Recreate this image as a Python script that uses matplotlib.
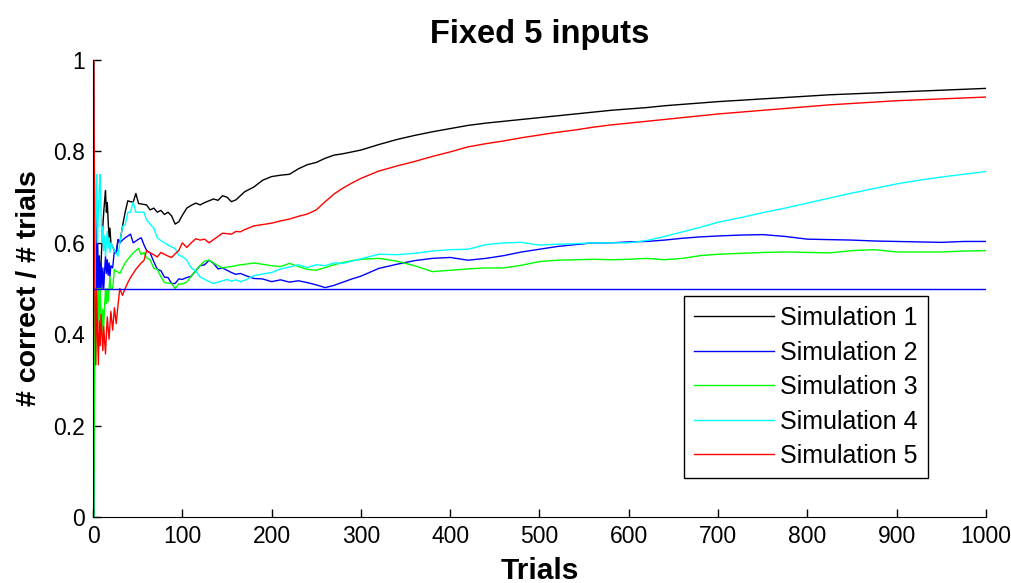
import numpy as np
import matplotlib
matplotlib.use('Agg')
import matplotlib.pyplot as plt

plt.rcParams['font.family'] = ['Liberation Sans', 'DejaVu Sans']

trials = [1, 2, 3, 4, 5, 6, 7, 8, 9, 10, 11, 12, 13, 14, 15, 16, 17, 18, 19, 20,
          22, 24, 26, 28, 30, 33, 36, 39, 42, 45, 48, 51, 54, 57, 60,
          64, 68, 72, 76, 80, 84, 88, 92, 96, 100,
          105, 110, 115, 120, 125, 130, 135, 140, 145, 150, 155, 160, 165, 170,
          180, 190, 200, 210, 220, 230, 240, 250, 260, 270, 280, 290, 300,
          320, 340, 360, 380, 400, 420, 440, 460, 480, 500, 520, 540, 560, 580,
          600, 620, 640, 660, 680, 700,
          725, 750, 775, 800, 825, 850, 875, 900, 925, 950, 975, 1000]

sim1 = [1.0, 0.5, 0.667, 0.5, 0.6, 0.5, 0.571, 0.5, 0.556, 0.6, 0.636, 0.667, 0.692, 0.714, 0.667, 0.688, 0.647, 0.611, 0.632, 0.6,
        0.591, 0.583, 0.577, 0.607, 0.6, 0.636, 0.667, 0.692, 0.69, 0.689, 0.708, 0.686, 0.685, 0.684, 0.683,
        0.672, 0.676, 0.667, 0.671, 0.662, 0.667, 0.659, 0.641, 0.646, 0.66,
        0.676, 0.682, 0.687, 0.683, 0.688, 0.692, 0.696, 0.693, 0.703, 0.7, 0.69, 0.694, 0.703, 0.712,
        0.722, 0.737, 0.745, 0.748, 0.75, 0.762, 0.771, 0.776, 0.785, 0.792, 0.795, 0.799, 0.803,
        0.815, 0.826, 0.835, 0.843, 0.85, 0.857, 0.862, 0.866, 0.87, 0.874, 0.878, 0.882, 0.886, 0.89,
        0.893, 0.896, 0.9, 0.903, 0.906, 0.909,
        0.912, 0.915, 0.918, 0.921, 0.924, 0.926, 0.928, 0.93, 0.932, 0.934, 0.936, 0.938]

sim2 = [0.0, 0.5, 0.667, 0.5, 0.6, 0.5, 0.571, 0.5, 0.556, 0.5, 0.545, 0.5, 0.538, 0.571, 0.533, 0.563, 0.529, 0.556, 0.526, 0.55,
        0.545, 0.583, 0.577, 0.607, 0.6, 0.606, 0.611, 0.615, 0.619, 0.6, 0.604, 0.608, 0.611, 0.596, 0.583,
        0.578, 0.559, 0.542, 0.539, 0.525, 0.524, 0.511, 0.511, 0.521, 0.52,
        0.524, 0.527, 0.539, 0.55, 0.552, 0.562, 0.555, 0.543, 0.545, 0.54, 0.535, 0.531, 0.533, 0.529,
        0.522, 0.521, 0.515, 0.519, 0.514, 0.517, 0.513, 0.508, 0.502, 0.507, 0.514, 0.521, 0.527,
        0.544, 0.553, 0.561, 0.566, 0.568, 0.562, 0.566, 0.572, 0.58, 0.586, 0.592, 0.596, 0.6, 0.6,
        0.602, 0.603, 0.606, 0.61, 0.613, 0.615,
        0.617, 0.618, 0.614, 0.608, 0.607, 0.606, 0.604, 0.603, 0.602, 0.601, 0.603, 0.603]

sim3 = [0.0, 0.5, 0.333, 0.5, 0.4, 0.5, 0.429, 0.5, 0.444, 0.4, 0.455, 0.417, 0.462, 0.5, 0.467, 0.5, 0.471, 0.5, 0.526, 0.5,
        0.5, 0.542, 0.538, 0.536, 0.533, 0.545, 0.556, 0.564, 0.571, 0.578, 0.583, 0.588, 0.574, 0.579, 0.567,
        0.563, 0.544, 0.542, 0.526, 0.513, 0.512, 0.511, 0.5, 0.51, 0.51,
        0.514, 0.527, 0.539, 0.55, 0.56, 0.562, 0.556, 0.55, 0.545, 0.547, 0.548, 0.55, 0.552, 0.553,
        0.556, 0.553, 0.55, 0.548, 0.555, 0.548, 0.542, 0.54, 0.546, 0.552, 0.557, 0.561, 0.564,
        0.566, 0.56, 0.55, 0.537, 0.54, 0.543, 0.545, 0.545, 0.551, 0.559, 0.562, 0.563, 0.564, 0.563,
        0.564, 0.566, 0.563, 0.566, 0.572, 0.575,
        0.577, 0.579, 0.58, 0.579, 0.578, 0.583, 0.585, 0.58, 0.58, 0.58, 0.582, 0.583]

sim4 = [1.0, 0.5, 0.667, 0.75, 0.6, 0.667, 0.714, 0.75, 0.667, 0.6, 0.636, 0.583, 0.615, 0.571, 0.6, 0.625, 0.588, 0.611, 0.579, 0.6,
        0.591, 0.583, 0.577, 0.571, 0.6, 0.636, 0.639, 0.667, 0.667, 0.689, 0.667, 0.667, 0.667, 0.667, 0.65,
        0.641, 0.632, 0.611, 0.605, 0.6, 0.595, 0.591, 0.587, 0.573, 0.57,
        0.562, 0.545, 0.539, 0.525, 0.52, 0.515, 0.511, 0.514, 0.517, 0.52, 0.516, 0.519, 0.515, 0.518,
        0.528, 0.532, 0.535, 0.543, 0.547, 0.552, 0.546, 0.552, 0.55, 0.556, 0.555, 0.56, 0.565,
        0.575, 0.574, 0.577, 0.582, 0.585, 0.586, 0.596, 0.6, 0.601, 0.595, 0.597, 0.598, 0.6, 0.6,
        0.6, 0.605, 0.614, 0.624, 0.634, 0.645,
        0.655, 0.666, 0.676, 0.687, 0.698, 0.709, 0.719, 0.729, 0.737, 0.744, 0.75, 0.756]

sim5 = [1.0, 0.5, 0.333, 0.5, 0.4, 0.333, 0.429, 0.375, 0.444, 0.4, 0.364, 0.417, 0.385, 0.357, 0.4, 0.438, 0.412, 0.389, 0.421, 0.45,
        0.409, 0.458, 0.423, 0.464, 0.5, 0.485, 0.5, 0.513, 0.524, 0.533, 0.542, 0.549, 0.556, 0.561, 0.583,
        0.578, 0.574, 0.569, 0.579, 0.575, 0.571, 0.568, 0.576, 0.583, 0.6,
        0.59, 0.6, 0.609, 0.606, 0.608, 0.6, 0.607, 0.614, 0.621, 0.62, 0.619, 0.625, 0.624, 0.629,
        0.637, 0.64, 0.643, 0.648, 0.652, 0.658, 0.663, 0.672, 0.69, 0.707, 0.72, 0.731, 0.741,
        0.757, 0.768, 0.778, 0.789, 0.799, 0.81, 0.817, 0.823, 0.83, 0.836, 0.842, 0.847, 0.853, 0.858,
        0.862, 0.866, 0.87, 0.874, 0.878, 0.882,
        0.886, 0.89, 0.894, 0.898, 0.902, 0.905, 0.908, 0.911, 0.913, 0.915, 0.917, 0.919]

labels = ['Simulation 1', 'Simulation 2', 'Simulation 3', 'Simulation 4', 'Simulation 5']
colors = ['#000000', '#0000ff', '#00ff00', '#00ffff', '#ff0000']
chance = 0.5

fig = plt.figure(figsize=(10.12, 5.83), dpi=100)
ax = fig.add_axes([0.0919, 0.1132, 0.8824, 0.7838])

for ys, lab, c in zip([sim1, sim2, sim3, sim4, sim5], labels, colors):
    ax.plot(trials, ys, color=c, lw=1.0, label=lab)
ax.plot([0, 1000], [chance, chance], color='#0000ff', lw=1.0)

ax.set_xlim(0, 1000)
ax.set_ylim(0, 1)
ax.set_xticks(np.arange(0, 1001, 100))
ax.set_yticks([0, 0.2, 0.4, 0.6, 0.8, 1])
ax.set_yticklabels(['0', '0.2', '0.4', '0.6', '0.8', '1'])
ax.tick_params(direction='in', length=6, width=1, labelsize=16.5, pad=6)
ax.spines['top'].set_visible(False)
ax.spines['right'].set_visible(False)

ax.set_title('Fixed 5 inputs', fontsize=23.5, fontweight='bold', pad=12)
ax.set_xlabel('Trials', fontsize=21.5, fontweight='bold', labelpad=6)
ax.set_ylabel('# correct / # trials', fontsize=20.5, fontweight='bold', labelpad=8)

leg = ax.legend(loc='lower right', bbox_to_anchor=(0.935, 0.085), borderaxespad=0,
                fontsize=18, frameon=True, fancybox=False, edgecolor='black', framealpha=1,
                handlelength=3.2, handletextpad=0.25, labelspacing=0.42, borderpad=0.4)
leg.get_frame().set_linewidth(1.0)

fig.savefig('out.png', dpi=100)
